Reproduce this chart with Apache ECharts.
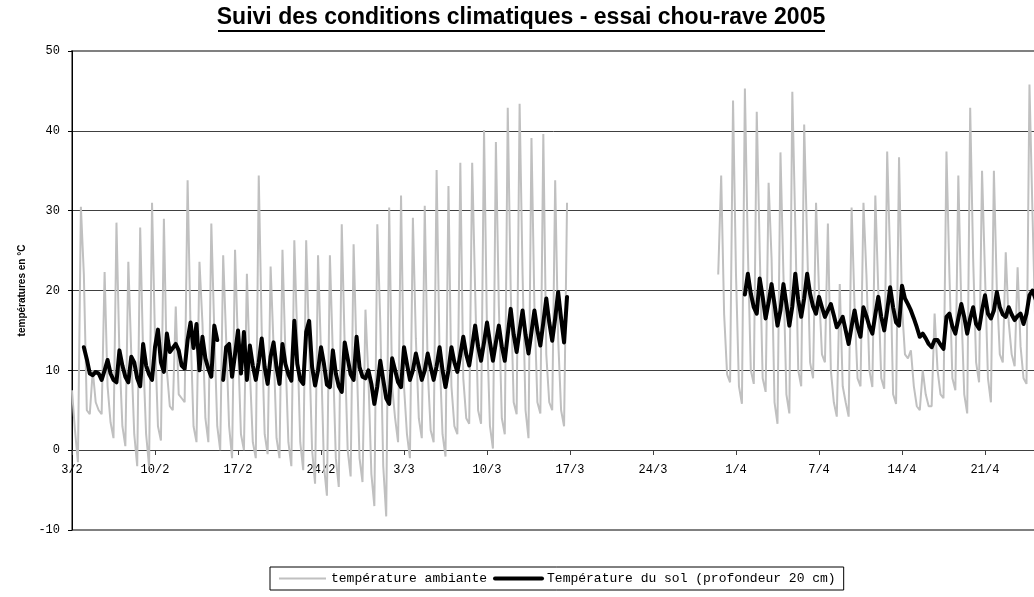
<!DOCTYPE html>
<html>
<head>
<meta charset="utf-8">
<title>Suivi des conditions climatiques - essai chou-rave 2005</title>
<script src="https://cdn.jsdelivr.net/npm/echarts@6/dist/echarts.min.js"></script>
<style>
  html, body { margin: 0; padding: 0; background: #fff; }
  #chart { width: 1034px; height: 597px; }
</style>
</head>
<body>
<div id="chart"></div>
<script>
// one reading every 6 h, 4 per day, a tick label every 7 days
const TICK_LABELS = ['3/2', '10/2', '17/2', '24/2', '3/3', '10/3', '17/3', '24/3', '1/4', '7/4', '14/4', '21/4', '28/4']
const STEPS_PER_LABEL = 28

// température ambiante (°C)
const ambient = [
  7.5, 2.5, -1.5, 30.5,  22, 5, 4.5, 10,  6, 5, 4.5, 22.3,  8, 3.5, 1.5, 28.5,
  12, 3, 0.5, 23.6,  12, 2, -2, 27.9,  12, 2, -2, 31,  14, 3, 1.2, 29,
  10, 5.5, 5, 18,  7, 6.5, 6, 33.8,  15, 3, 1, 23.6,  16, 4, 1, 28.4,
  15, 3, 0, 24.4,  14, 3, -1, 25.1,  13, 2, 0, 22.1,  10, 1, -1, 34.4,
  15, 2, -0.5, 23,  13, 1.5, -1, 25.1,  12, 1, -2, 26.3,  14, 1, -2.5, 26.3,
  13, 0, -4.2, 24.4,  12, -2, -5.7, 24.4,  12, -1, -4.6, 28.3,  13, 0, -3.3, 25.8,
  12, -1, -4, 17.6,  9, -3, -7, 28.3,  16, -2, -8.3, 30.4,  8, 4, 1, 31.9,
  8, 2, -1, 29.1,  14, 4, 1.5, 30.6,  10, 2.5, 1, 35.1,  12, 2, -0.8, 33.1,
  8, 3, 2, 36,  9, 4, 3.3, 36,  20, 5, 3.3, 40.1,  15, 3, 0.2, 38.6,
  18, 4, 2, 42.9,  20, 6, 4.5, 43.4,  22, 5, 1.5, 39.1,  18, 6, 4.6, 39.6,
  12, 6, 5, 33.8,  14, 5, 3, 31,
  null, null, null, null,  null, null, null, null,  null, null, null, null,  null, null, null, null,
  null, null, null, null,  null, null, null, null,  null, null, null, null,  null, null, null, null,
  null, null, null, null,  null, null, null, null,  null, null, null, null,  null, null, null, null,
  null, null, 22, 34.4,  17, 9.5, 8.5, 43.8,  22, 8, 5.8, 45.3,  25, 10, 8.3, 42.4,
  25, 9, 7.3, 33.5,  24, 6, 3.3, 37.3,  22, 7, 4.6, 44.9,  28, 10, 8, 40.8,
  26, 11, 9, 31,  20, 12, 11, 28.4,  10, 6, 4.2, 20.8,  8, 6, 4.2, 30.4,
  18, 9, 8, 31,  22, 10, 7.9, 31.9,  20, 9, 7.7, 37.4,  24, 7, 5.8, 36.7,
  18, 12, 11.5, 12.5,  8, 5.5, 5, 10,  7, 5.5, 5.5, 17.1,  10, 7, 6.5, 37.4,
  22, 9, 7.5, 34.4,  18, 7, 4.6, 42.9,  24, 11, 8.5, 35,  22, 9, 6, 35,
  20, 12, 11, 24.8,  16, 12, 10.5, 22.9,  13, 9, 8.3, 45.8,  30, 15, 12, 30,
  20, 12, 10, 25
]

// Température du sol, profondeur 20 cm (°C)
const soil = [
  null, null, null, null,  12.9, 11.4, 9.6, 9.4,  9.8, 9.6, 8.8, 10,  11.3, 9.6, 8.8, 8.5,
  12.5, 10.6, 9.2, 8.5,  11.7, 11, 9, 8,  13.3, 10.6, 9.5, 8.8,  12.9, 15.1, 11, 9.8,
  14.6, 12.3, 12.8, 13.3,  12.5, 10.6, 10.2, 13.8,  16, 12.8, 15.8, 10,  14.2, 11.5, 10.2, 9.2,
  15.6, 13.8, null, 8.8,  12.9, 13.3, 9.2, 12,  15, 9.6, 14.8, 8.8,  13.1, 10.6, 8.8, 11,
  14, 10.4, 8.3, 11.7,  13.5, 10.4, 8.3, 13.3,  10.8, 9.5, 8.7, 16.2,  10.8, 8.8, 8.3, 14.8,
  16.2, 10.4, 8.1, 10,  12.9, 10.8, 8.2, 7.9,  12.5, 9.6, 8, 7.3,  13.5, 11.5, 9.5, 8.8,
  14.2, 10.4, 9.2, 9,  10, 8.3, 5.8, 8,  11.2, 8.8, 6.5, 5.8,  11.5, 10, 8.5, 7.9,
  12.9, 10.8, 8.8, 10,  12.1, 10.5, 8.8, 10,  12.1, 10.4, 8.8, 10.5,  12.9, 10, 7.9, 10,
  12.9, 11, 9.8, 12,  14.2, 12, 10.6, 13,  15.6, 13, 11.2, 13.5,  16, 13.5, 11.2, 13.5,
  15.6, 13, 11.2, 14.5,  17.7, 14.5, 12.3, 15,  17.5, 14.5, 12.1, 14.8,  17.5, 15, 13.1, 16,
  19, 16, 13.7, 16.5,  19.8, 16.5, 13.5, 19.2,
  null, null, null, null,  null, null, null, null,  null, null, null, null,  null, null, null, null,
  null, null, null, null,  null, null, null, null,  null, null, null, null,  null, null, null, null,
  null, null, null, null,  null, null, null, null,  null, null, null, null,  null, null, null, null,
  null, null, null, null,  null, null, null, null,
  null, null, null, 19.5,  22.1, 19.6, 17.9, 17.1,  21.5, 19.2, 16.5, 18.5,  20.8, 18.3, 15.6, 17.5,
  20.8, 18.3, 15.6, 18,  22.1, 18.8, 16.7, 19,  22.1, 19.6, 18, 17.1,  19.2, 17.9, 16.7, 17.5,
  18.3, 16.9, 15.4, 16,  16.7, 15, 13.3, 15.5,  17.5, 15.4, 14.2, 17.9,  16.8, 15.5, 14.6, 17,
  19.2, 16.7, 15, 17.5,  20.4, 17.9, 16, 15.6,  20.6, 19, 18.3, 17.5,  16.5, 15.4, 14.2, 14.6,
  14, 13.3, 12.9, 13.8,  13.8, 13.2, 12.7, 16.7,  17.1, 15.5, 14.6, 16.5,  18.3, 16.7, 14.6, 16.5,
  17.9, 15.8, 15.2, 17.5,  19.4, 17.1, 16.5, 17.5,  19.8, 17.9, 17, 16.7,  17.9, 17, 16.3, 16.8,
  17.1, 15.8, 17.1, 19.4,  20, 19, 18, 20,  21, 19, 17, 19
]

const categories = []
for (let i = 0; i <= (TICK_LABELS.length - 1) * STEPS_PER_LABEL; i++) categories.push(String(i))

const chart = echarts.init(document.getElementById('chart'))

chart.setOption({
  animation: false,
  backgroundColor: '#fff',
  graphic: [
    {
      type: 'text',
      x: 521,
      y: 18,
      style: {
        text: 'Suivi des conditions climatiques - essai chou-rave 2005',
        font: 'bold 23px "Liberation Sans", Arial, sans-serif',
        fill: '#000',
        align: 'center',
        verticalAlign: 'middle'
      }
    },
    {
      type: 'line',
      shape: { x1: 218, y1: 31, x2: 825, y2: 31 },
      style: { stroke: '#000', lineWidth: 2 }
    }
  ],
  legend: {
    left: 270,
    top: 567,
    padding: [5, 8],
    itemGap: 6,
    itemWidth: 47,
    itemHeight: 14,
    borderColor: '#000',
    borderWidth: 1,
    itemStyle: { opacity: 0 },
    textStyle: { fontFamily: 'Liberation Mono', fontSize: 13, color: '#000' },
    data: [
      { name: 'température ambiante', lineStyle: { width: 2 } },
      { name: 'Température du sol (profondeur 20 cm)', lineStyle: { width: 4 } }
    ]
  },
  grid: {
    left: 72,
    right: -34,
    top: 51,
    bottom: 67,
    outerBoundsMode: 'none',
    show: true,
    borderColor: '#808080',
    borderWidth: 2
  },
  xAxis: {
    type: 'category',
    data: categories,
    boundaryGap: false,
    // the axis sits on 0 °C, 80 px above the bottom of the plot
    offset: -80,
    axisLine: { onZero: false, lineStyle: { color: '#404040', width: 1 } },
    axisTick: { interval: STEPS_PER_LABEL - 1, length: 5, lineStyle: { color: '#404040' } },
    axisLabel: {
      interval: STEPS_PER_LABEL - 1,
      margin: 14,
      fontFamily: 'Liberation Mono',
      fontSize: 12,
      color: '#000',
      formatter: (v, i) => (i % STEPS_PER_LABEL === 0 ? TICK_LABELS[i / STEPS_PER_LABEL] : '')
    },
    splitLine: { show: false }
  },
  yAxis: {
    type: 'value',
    min: -10,
    max: 50,
    interval: 10,
    name: 'températures en °C',
    nameLocation: 'middle',
    nameGap: 45,
    nameTextStyle: { fontFamily: 'Liberation Sans', fontWeight: 'bold', fontSize: 10, color: '#000' },
    axisLine: { show: true, lineStyle: { color: '#000', width: 1 } },
    axisTick: { show: true, length: 4, lineStyle: { color: '#000' } },
    axisLabel: { fontFamily: 'Liberation Mono', fontSize: 12, color: '#000', margin: 12 },
    splitLine: {
      show: true,
      lineStyle: {
        color: ['transparent', '#404040', '#404040', '#404040', '#404040', '#404040', 'transparent'],
        width: 1
      }
    }
  },
  series: [
    {
      name: 'température ambiante',
      type: 'line',
      data: ambient,
      symbol: 'none',
      z: 2,
      itemStyle: { color: '#C0C0C0' },
      lineStyle: { color: '#C0C0C0', width: 2 }
    },
    {
      name: 'Température du sol (profondeur 20 cm)',
      type: 'line',
      data: soil,
      symbol: 'none',
      z: 3,
      itemStyle: { color: '#000' },
      lineStyle: { color: '#000', width: 4, join: 'round', cap: 'round' }
    }
  ]
})
</script>
</body>
</html>
